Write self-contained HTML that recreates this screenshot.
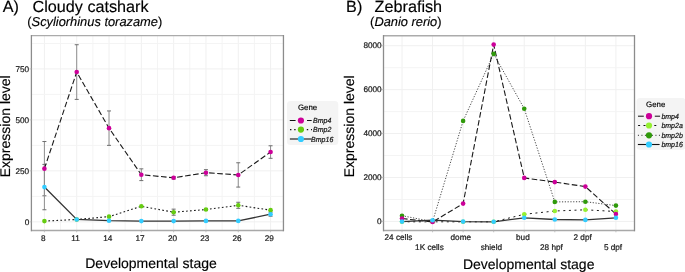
<!DOCTYPE html>
<html><head><meta charset="utf-8"><style>
html,body{margin:0;padding:0;background:#fff;}
svg{display:block;font-family:"Liberation Sans", sans-serif;}
.tk{fill:#1a1a1a;stroke:#1a1a1a;stroke-width:0.22px;}
.ti{fill:#000;stroke:#000;stroke-width:0.15px;}
.lg{fill:#111;stroke:#111;stroke-width:0.2px;}
</style></head><body>
<svg width="685" height="272" viewBox="0 0 685 272" text-rendering="geometricPrecision" style="will-change:transform">
<line x1="44.40" y1="35.6" x2="44.40" y2="230.5" stroke="#f0f0f0" stroke-width="1"/>
<line x1="60.55" y1="35.6" x2="60.55" y2="230.5" stroke="#f4f4f4" stroke-width="1"/>
<line x1="76.71" y1="35.6" x2="76.71" y2="230.5" stroke="#f0f0f0" stroke-width="1"/>
<line x1="92.86" y1="35.6" x2="92.86" y2="230.5" stroke="#f4f4f4" stroke-width="1"/>
<line x1="109.02" y1="35.6" x2="109.02" y2="230.5" stroke="#f0f0f0" stroke-width="1"/>
<line x1="125.17" y1="35.6" x2="125.17" y2="230.5" stroke="#f4f4f4" stroke-width="1"/>
<line x1="141.33" y1="35.6" x2="141.33" y2="230.5" stroke="#f0f0f0" stroke-width="1"/>
<line x1="157.48" y1="35.6" x2="157.48" y2="230.5" stroke="#f4f4f4" stroke-width="1"/>
<line x1="173.64" y1="35.6" x2="173.64" y2="230.5" stroke="#f0f0f0" stroke-width="1"/>
<line x1="189.79" y1="35.6" x2="189.79" y2="230.5" stroke="#f4f4f4" stroke-width="1"/>
<line x1="205.95" y1="35.6" x2="205.95" y2="230.5" stroke="#f0f0f0" stroke-width="1"/>
<line x1="222.10" y1="35.6" x2="222.10" y2="230.5" stroke="#f4f4f4" stroke-width="1"/>
<line x1="238.26" y1="35.6" x2="238.26" y2="230.5" stroke="#f0f0f0" stroke-width="1"/>
<line x1="254.41" y1="35.6" x2="254.41" y2="230.5" stroke="#f4f4f4" stroke-width="1"/>
<line x1="270.57" y1="35.6" x2="270.57" y2="230.5" stroke="#f0f0f0" stroke-width="1"/>
<line x1="31.5" y1="221.84" x2="283.5" y2="221.84" stroke="#f0f0f0" stroke-width="1"/>
<line x1="31.5" y1="196.35" x2="283.5" y2="196.35" stroke="#f4f4f4" stroke-width="1"/>
<line x1="31.5" y1="170.87" x2="283.5" y2="170.87" stroke="#f0f0f0" stroke-width="1"/>
<line x1="31.5" y1="145.38" x2="283.5" y2="145.38" stroke="#f4f4f4" stroke-width="1"/>
<line x1="31.5" y1="119.89" x2="283.5" y2="119.89" stroke="#f0f0f0" stroke-width="1"/>
<line x1="31.5" y1="94.40" x2="283.5" y2="94.40" stroke="#f4f4f4" stroke-width="1"/>
<line x1="31.5" y1="68.91" x2="283.5" y2="68.91" stroke="#f0f0f0" stroke-width="1"/>
<line x1="31.5" y1="43.43" x2="283.5" y2="43.43" stroke="#f4f4f4" stroke-width="1"/>
<line x1="402.00" y1="35.9" x2="402.00" y2="230.5" stroke="#f0f0f0" stroke-width="1"/>
<line x1="432.56" y1="35.9" x2="432.56" y2="230.5" stroke="#f0f0f0" stroke-width="1"/>
<line x1="463.12" y1="35.9" x2="463.12" y2="230.5" stroke="#f0f0f0" stroke-width="1"/>
<line x1="493.68" y1="35.9" x2="493.68" y2="230.5" stroke="#f0f0f0" stroke-width="1"/>
<line x1="524.24" y1="35.9" x2="524.24" y2="230.5" stroke="#f0f0f0" stroke-width="1"/>
<line x1="554.80" y1="35.9" x2="554.80" y2="230.5" stroke="#f0f0f0" stroke-width="1"/>
<line x1="585.36" y1="35.9" x2="585.36" y2="230.5" stroke="#f0f0f0" stroke-width="1"/>
<line x1="615.92" y1="35.9" x2="615.92" y2="230.5" stroke="#f0f0f0" stroke-width="1"/>
<line x1="383.5" y1="221.40" x2="634.5" y2="221.40" stroke="#f0f0f0" stroke-width="1"/>
<line x1="383.5" y1="199.44" x2="634.5" y2="199.44" stroke="#f4f4f4" stroke-width="1"/>
<line x1="383.5" y1="177.48" x2="634.5" y2="177.48" stroke="#f0f0f0" stroke-width="1"/>
<line x1="383.5" y1="155.52" x2="634.5" y2="155.52" stroke="#f4f4f4" stroke-width="1"/>
<line x1="383.5" y1="133.56" x2="634.5" y2="133.56" stroke="#f0f0f0" stroke-width="1"/>
<line x1="383.5" y1="111.60" x2="634.5" y2="111.60" stroke="#f4f4f4" stroke-width="1"/>
<line x1="383.5" y1="89.64" x2="634.5" y2="89.64" stroke="#f0f0f0" stroke-width="1"/>
<line x1="383.5" y1="67.68" x2="634.5" y2="67.68" stroke="#f4f4f4" stroke-width="1"/>
<line x1="383.5" y1="45.72" x2="634.5" y2="45.72" stroke="#f0f0f0" stroke-width="1"/>
<line x1="44.40" y1="141.52" x2="44.40" y2="195.79" stroke="#8e8e8e" stroke-width="1"/>
<line x1="42.40" y1="141.52" x2="46.40" y2="141.52" stroke="#6e6e6e" stroke-width="1"/>
<line x1="42.40" y1="195.79" x2="46.40" y2="195.79" stroke="#6e6e6e" stroke-width="1"/>
<line x1="76.71" y1="44.72" x2="76.71" y2="99.40" stroke="#8e8e8e" stroke-width="1"/>
<line x1="74.71" y1="44.72" x2="78.71" y2="44.72" stroke="#6e6e6e" stroke-width="1"/>
<line x1="74.71" y1="99.40" x2="78.71" y2="99.40" stroke="#6e6e6e" stroke-width="1"/>
<line x1="109.02" y1="110.94" x2="109.02" y2="145.37" stroke="#8e8e8e" stroke-width="1"/>
<line x1="107.02" y1="110.94" x2="111.02" y2="110.94" stroke="#6e6e6e" stroke-width="1"/>
<line x1="107.02" y1="145.37" x2="111.02" y2="145.37" stroke="#6e6e6e" stroke-width="1"/>
<line x1="141.33" y1="168.85" x2="141.33" y2="180.60" stroke="#8e8e8e" stroke-width="1"/>
<line x1="139.33" y1="168.85" x2="143.33" y2="168.85" stroke="#6e6e6e" stroke-width="1"/>
<line x1="139.33" y1="180.60" x2="143.33" y2="180.60" stroke="#6e6e6e" stroke-width="1"/>
<line x1="173.64" y1="176.55" x2="173.64" y2="178.98" stroke="#8e8e8e" stroke-width="1"/>
<line x1="171.64" y1="176.55" x2="175.64" y2="176.55" stroke="#6e6e6e" stroke-width="1"/>
<line x1="171.64" y1="178.98" x2="175.64" y2="178.98" stroke="#6e6e6e" stroke-width="1"/>
<line x1="205.95" y1="169.66" x2="205.95" y2="175.74" stroke="#8e8e8e" stroke-width="1"/>
<line x1="203.95" y1="169.66" x2="207.95" y2="169.66" stroke="#6e6e6e" stroke-width="1"/>
<line x1="203.95" y1="175.74" x2="207.95" y2="175.74" stroke="#6e6e6e" stroke-width="1"/>
<line x1="238.26" y1="162.78" x2="238.26" y2="187.08" stroke="#8e8e8e" stroke-width="1"/>
<line x1="236.26" y1="162.78" x2="240.26" y2="162.78" stroke="#6e6e6e" stroke-width="1"/>
<line x1="236.26" y1="187.08" x2="240.26" y2="187.08" stroke="#6e6e6e" stroke-width="1"/>
<line x1="270.57" y1="145.77" x2="270.57" y2="158.32" stroke="#8e8e8e" stroke-width="1"/>
<line x1="268.57" y1="145.77" x2="272.57" y2="145.77" stroke="#6e6e6e" stroke-width="1"/>
<line x1="268.57" y1="158.32" x2="272.57" y2="158.32" stroke="#6e6e6e" stroke-width="1"/>
<line x1="173.64" y1="209.15" x2="173.64" y2="215.23" stroke="#8e8e8e" stroke-width="1"/>
<line x1="171.64" y1="209.15" x2="175.64" y2="209.15" stroke="#6e6e6e" stroke-width="1"/>
<line x1="171.64" y1="215.23" x2="175.64" y2="215.23" stroke="#6e6e6e" stroke-width="1"/>
<line x1="205.95" y1="208.75" x2="205.95" y2="210.37" stroke="#8e8e8e" stroke-width="1"/>
<line x1="203.95" y1="208.75" x2="207.95" y2="208.75" stroke="#6e6e6e" stroke-width="1"/>
<line x1="203.95" y1="210.37" x2="207.95" y2="210.37" stroke="#6e6e6e" stroke-width="1"/>
<line x1="238.26" y1="202.27" x2="238.26" y2="208.34" stroke="#8e8e8e" stroke-width="1"/>
<line x1="236.26" y1="202.27" x2="240.26" y2="202.27" stroke="#6e6e6e" stroke-width="1"/>
<line x1="236.26" y1="208.34" x2="240.26" y2="208.34" stroke="#6e6e6e" stroke-width="1"/>
<line x1="44.40" y1="164.40" x2="44.40" y2="209.76" stroke="#8e8e8e" stroke-width="1"/>
<line x1="42.40" y1="164.40" x2="46.40" y2="164.40" stroke="#6e6e6e" stroke-width="1"/>
<line x1="42.40" y1="209.76" x2="46.40" y2="209.76" stroke="#6e6e6e" stroke-width="1"/>
<line x1="270.57" y1="212.19" x2="270.57" y2="216.24" stroke="#8e8e8e" stroke-width="1"/>
<line x1="268.57" y1="212.19" x2="272.57" y2="212.19" stroke="#6e6e6e" stroke-width="1"/>
<line x1="268.57" y1="216.24" x2="272.57" y2="216.24" stroke="#6e6e6e" stroke-width="1"/>
<polyline points="44.40,168.65 76.71,72.06 109.02,128.15 141.33,174.73 173.64,177.76 205.95,172.70 238.26,174.93 270.57,152.05" fill="none" stroke="#1a1a1a" stroke-width="1.1" stroke-dasharray="5.6 2.5"/>
<polyline points="44.40,221.10 76.71,219.48 109.02,216.64 141.33,206.32 173.64,212.19 205.95,209.56 238.26,205.31 270.57,210.16" fill="none" stroke="#1a1a1a" stroke-width="1.1" stroke-dasharray="1.7 2.3"/>
<polyline points="44.40,187.08 76.71,219.48 109.02,220.69 141.33,221.10 173.64,221.10 205.95,220.90 238.26,220.90 270.57,214.22" fill="none" stroke="#333" stroke-width="1.3"/>
<circle cx="44.40" cy="168.65" r="2.3" fill="#cc0099"/>
<circle cx="76.71" cy="72.06" r="2.3" fill="#cc0099"/>
<circle cx="109.02" cy="128.15" r="2.3" fill="#cc0099"/>
<circle cx="141.33" cy="174.73" r="2.3" fill="#cc0099"/>
<circle cx="173.64" cy="177.76" r="2.3" fill="#cc0099"/>
<circle cx="205.95" cy="172.70" r="2.3" fill="#cc0099"/>
<circle cx="238.26" cy="174.93" r="2.3" fill="#cc0099"/>
<circle cx="270.57" cy="152.05" r="2.3" fill="#cc0099"/>
<circle cx="44.40" cy="221.10" r="2.3" fill="#66cc11"/>
<circle cx="76.71" cy="219.48" r="2.3" fill="#66cc11"/>
<circle cx="109.02" cy="216.64" r="2.3" fill="#66cc11"/>
<circle cx="141.33" cy="206.32" r="2.3" fill="#66cc11"/>
<circle cx="173.64" cy="212.19" r="2.3" fill="#66cc11"/>
<circle cx="205.95" cy="209.56" r="2.3" fill="#66cc11"/>
<circle cx="238.26" cy="205.31" r="2.3" fill="#66cc11"/>
<circle cx="270.57" cy="210.16" r="2.3" fill="#66cc11"/>
<circle cx="44.40" cy="187.08" r="2.3" fill="#33ccff"/>
<circle cx="76.71" cy="219.48" r="2.3" fill="#33ccff"/>
<circle cx="109.02" cy="220.69" r="2.3" fill="#33ccff"/>
<circle cx="141.33" cy="221.10" r="2.3" fill="#33ccff"/>
<circle cx="173.64" cy="221.10" r="2.3" fill="#33ccff"/>
<circle cx="205.95" cy="220.90" r="2.3" fill="#33ccff"/>
<circle cx="238.26" cy="220.90" r="2.3" fill="#33ccff"/>
<circle cx="270.57" cy="214.22" r="2.3" fill="#33ccff"/>
<polyline points="402.00,215.70 432.56,221.60 463.12,120.90 493.68,53.90 524.24,108.70 554.80,201.90 585.36,201.70 615.92,205.60" fill="none" stroke="#1a1a1a" stroke-width="0.8" stroke-dasharray="1.2 1.6"/>
<polyline points="402.00,221.80 432.56,221.80 463.12,221.80 493.68,221.80 524.24,214.30 554.80,211.00 585.36,209.80 615.92,211.50" fill="none" stroke="#1a1a1a" stroke-width="1.0" stroke-dasharray="2 3.6"/>
<polyline points="402.00,218.50 432.56,222.00 463.12,203.60 493.68,44.60 524.24,177.90 554.80,182.10 585.36,186.60 615.92,214.10" fill="none" stroke="#1a1a1a" stroke-width="1.1" stroke-dasharray="5.6 2.5"/>
<polyline points="402.00,221.60 432.56,220.20 463.12,221.60 493.68,221.80 524.24,217.80 554.80,219.50 585.36,219.90 615.92,217.80" fill="none" stroke="#333" stroke-width="1.3"/>
<circle cx="402.00" cy="215.70" r="2.3" fill="#2f990a"/>
<circle cx="432.56" cy="221.60" r="2.3" fill="#2f990a"/>
<circle cx="463.12" cy="120.90" r="2.3" fill="#2f990a"/>
<circle cx="493.68" cy="53.90" r="2.3" fill="#2f990a"/>
<circle cx="524.24" cy="108.70" r="2.3" fill="#2f990a"/>
<circle cx="554.80" cy="201.90" r="2.3" fill="#2f990a"/>
<circle cx="585.36" cy="201.70" r="2.3" fill="#2f990a"/>
<circle cx="615.92" cy="205.60" r="2.3" fill="#2f990a"/>
<circle cx="402.00" cy="221.80" r="2.3" fill="#95f030"/>
<circle cx="432.56" cy="221.80" r="2.3" fill="#95f030"/>
<circle cx="463.12" cy="221.80" r="2.3" fill="#95f030"/>
<circle cx="493.68" cy="221.80" r="2.3" fill="#95f030"/>
<circle cx="524.24" cy="214.30" r="2.3" fill="#95f030"/>
<circle cx="554.80" cy="211.00" r="2.3" fill="#95f030"/>
<circle cx="585.36" cy="209.80" r="2.3" fill="#95f030"/>
<circle cx="615.92" cy="211.50" r="2.3" fill="#95f030"/>
<circle cx="402.00" cy="218.50" r="2.3" fill="#cc0099"/>
<circle cx="432.56" cy="222.00" r="2.3" fill="#cc0099"/>
<circle cx="463.12" cy="203.60" r="2.3" fill="#cc0099"/>
<circle cx="493.68" cy="44.60" r="2.3" fill="#cc0099"/>
<circle cx="524.24" cy="177.90" r="2.3" fill="#cc0099"/>
<circle cx="554.80" cy="182.10" r="2.3" fill="#cc0099"/>
<circle cx="585.36" cy="186.60" r="2.3" fill="#cc0099"/>
<circle cx="615.92" cy="214.10" r="2.3" fill="#cc0099"/>
<circle cx="402.00" cy="221.60" r="2.3" fill="#33ccff"/>
<circle cx="432.56" cy="220.20" r="2.3" fill="#33ccff"/>
<circle cx="463.12" cy="221.60" r="2.3" fill="#33ccff"/>
<circle cx="493.68" cy="221.80" r="2.3" fill="#33ccff"/>
<circle cx="524.24" cy="217.80" r="2.3" fill="#33ccff"/>
<circle cx="554.80" cy="219.50" r="2.3" fill="#33ccff"/>
<circle cx="585.36" cy="219.90" r="2.3" fill="#33ccff"/>
<circle cx="615.92" cy="217.80" r="2.3" fill="#33ccff"/>
<line x1="31.4" y1="35.7" x2="283.45" y2="35.7" stroke="#ababab" stroke-width="1.3"/>
<line x1="31.4" y1="230.6" x2="283.45" y2="230.6" stroke="#a8a8a8" stroke-width="1.5"/>
<line x1="31.4" y1="35.0" x2="31.4" y2="231.29999999999998" stroke="#8c8c8c" stroke-width="1.3"/>
<line x1="283.45" y1="35.0" x2="283.45" y2="231.29999999999998" stroke="#8c8c8c" stroke-width="1.3"/>
<line x1="383.5" y1="35.75" x2="634.5" y2="35.75" stroke="#ababab" stroke-width="1.3"/>
<line x1="383.5" y1="230.6" x2="634.5" y2="230.6" stroke="#a8a8a8" stroke-width="1.5"/>
<line x1="383.5" y1="35.05" x2="383.5" y2="231.29999999999998" stroke="#8c8c8c" stroke-width="1.3"/>
<line x1="634.5" y1="35.05" x2="634.5" y2="231.29999999999998" stroke="#8c8c8c" stroke-width="1.3"/>
<line x1="44.40" y1="230.5" x2="44.40" y2="232.3" stroke="#b5b5b5" stroke-width="0.8"/>
<line x1="76.71" y1="230.5" x2="76.71" y2="232.3" stroke="#b5b5b5" stroke-width="0.8"/>
<line x1="109.02" y1="230.5" x2="109.02" y2="232.3" stroke="#b5b5b5" stroke-width="0.8"/>
<line x1="141.33" y1="230.5" x2="141.33" y2="232.3" stroke="#b5b5b5" stroke-width="0.8"/>
<line x1="173.64" y1="230.5" x2="173.64" y2="232.3" stroke="#b5b5b5" stroke-width="0.8"/>
<line x1="205.95" y1="230.5" x2="205.95" y2="232.3" stroke="#b5b5b5" stroke-width="0.8"/>
<line x1="238.26" y1="230.5" x2="238.26" y2="232.3" stroke="#b5b5b5" stroke-width="0.8"/>
<line x1="270.57" y1="230.5" x2="270.57" y2="232.3" stroke="#b5b5b5" stroke-width="0.8"/>
<line x1="29.5" y1="221.84" x2="31.5" y2="221.84" stroke="#b5b5b5" stroke-width="0.8"/>
<line x1="29.5" y1="170.87" x2="31.5" y2="170.87" stroke="#b5b5b5" stroke-width="0.8"/>
<line x1="29.5" y1="119.89" x2="31.5" y2="119.89" stroke="#b5b5b5" stroke-width="0.8"/>
<line x1="29.5" y1="68.91" x2="31.5" y2="68.91" stroke="#b5b5b5" stroke-width="0.8"/>
<line x1="402.00" y1="230.5" x2="402.00" y2="232.3" stroke="#b5b5b5" stroke-width="0.8"/>
<line x1="432.56" y1="230.5" x2="432.56" y2="232.3" stroke="#b5b5b5" stroke-width="0.8"/>
<line x1="463.12" y1="230.5" x2="463.12" y2="232.3" stroke="#b5b5b5" stroke-width="0.8"/>
<line x1="493.68" y1="230.5" x2="493.68" y2="232.3" stroke="#b5b5b5" stroke-width="0.8"/>
<line x1="524.24" y1="230.5" x2="524.24" y2="232.3" stroke="#b5b5b5" stroke-width="0.8"/>
<line x1="554.80" y1="230.5" x2="554.80" y2="232.3" stroke="#b5b5b5" stroke-width="0.8"/>
<line x1="585.36" y1="230.5" x2="585.36" y2="232.3" stroke="#b5b5b5" stroke-width="0.8"/>
<line x1="615.92" y1="230.5" x2="615.92" y2="232.3" stroke="#b5b5b5" stroke-width="0.8"/>
<line x1="381.5" y1="221.40" x2="383.5" y2="221.40" stroke="#b5b5b5" stroke-width="0.8"/>
<line x1="381.5" y1="177.48" x2="383.5" y2="177.48" stroke="#b5b5b5" stroke-width="0.8"/>
<line x1="381.5" y1="133.56" x2="383.5" y2="133.56" stroke="#b5b5b5" stroke-width="0.8"/>
<line x1="381.5" y1="89.64" x2="383.5" y2="89.64" stroke="#b5b5b5" stroke-width="0.8"/>
<line x1="381.5" y1="45.72" x2="383.5" y2="45.72" stroke="#b5b5b5" stroke-width="0.8"/>
<text x="43.20" y="240.8" font-size="8.2" text-anchor="middle" class="tk">8</text>
<text x="75.51" y="240.8" font-size="8.2" text-anchor="middle" class="tk">11</text>
<text x="107.82" y="240.8" font-size="8.2" text-anchor="middle" class="tk">14</text>
<text x="140.13" y="240.8" font-size="8.2" text-anchor="middle" class="tk">17</text>
<text x="172.44" y="240.8" font-size="8.2" text-anchor="middle" class="tk">20</text>
<text x="204.75" y="240.8" font-size="8.2" text-anchor="middle" class="tk">23</text>
<text x="237.06" y="240.8" font-size="8.2" text-anchor="middle" class="tk">26</text>
<text x="269.37" y="240.8" font-size="8.2" text-anchor="middle" class="tk">29</text>
<text x="29.2" y="224.64" font-size="8.2" text-anchor="end" class="tk">0</text>
<text x="29.2" y="173.67" font-size="8.2" text-anchor="end" class="tk">250</text>
<text x="29.2" y="122.69" font-size="8.2" text-anchor="end" class="tk">500</text>
<text x="29.2" y="71.71" font-size="8.2" text-anchor="end" class="tk">750</text>
<text x="381.6" y="224.10" font-size="8.2" text-anchor="end" class="tk">0</text>
<text x="381.6" y="180.18" font-size="8.2" text-anchor="end" class="tk">2000</text>
<text x="381.6" y="136.26" font-size="8.2" text-anchor="end" class="tk">4000</text>
<text x="381.6" y="92.34" font-size="8.2" text-anchor="end" class="tk">6000</text>
<text x="381.6" y="48.42" font-size="8.2" text-anchor="end" class="tk">8000</text>
<text x="398.45" y="239.8" font-size="8.2" text-anchor="middle" class="tk">24 cells</text>
<text x="429.45" y="250.3" font-size="8.2" text-anchor="middle" class="tk">1K cells</text>
<text x="460.80" y="239.8" font-size="8.2" text-anchor="middle" class="tk">dome</text>
<text x="491.35" y="250.3" font-size="8.2" text-anchor="middle" class="tk">shield</text>
<text x="522.90" y="239.8" font-size="8.2" text-anchor="middle" class="tk">bud</text>
<text x="551.40" y="250.3" font-size="8.2" text-anchor="middle" class="tk">28 hpf</text>
<text x="582.65" y="239.8" font-size="8.2" text-anchor="middle" class="tk">2 dpf</text>
<text x="613.05" y="250.3" font-size="8.2" text-anchor="middle" class="tk">5 dpf</text>
<text x="151" y="267.7" font-size="14.0" text-anchor="middle" class="ti">Developmental stage</text>
<text x="528.7" y="268.7" font-size="14.0" text-anchor="middle" class="ti">Developmental stage</text>
<text transform="translate(10.3,126.3) rotate(-90)" x="0" y="0" font-size="14.0" text-anchor="middle" class="ti">Expression level</text>
<text transform="translate(353.8,126.3) rotate(-90)" x="0" y="0" font-size="14.0" text-anchor="middle" class="ti">Expression level</text>
<text x="2.8" y="11.7" font-size="16.2" class="ti">A)</text>
<text x="32.5" y="11.7" font-size="16.2" class="ti">Cloudy catshark</text>
<text x="27.3" y="25.8" font-size="12.85" class="ti">(<tspan font-style="italic">Scyliorhinus torazame</tspan>)</text>
<text x="346.1" y="11.7" font-size="16.2" class="ti">B)</text>
<text x="374.6" y="11.7" font-size="16.2" class="ti">Zebrafish</text>
<text x="370.1" y="25.8" font-size="12.85" class="ti">(<tspan font-style="italic">Danio rerio</tspan>)</text>
<rect x="287" y="100.9" width="51.30000000000001" height="44.099999999999994" rx="3.5" fill="#f4f4f4"/>
<text x="297.9" y="109.7" font-size="7.9" class="ti">Gene</text>
<line x1="289.8" y1="120.5" x2="295.6" y2="120.5" stroke="#111" stroke-width="1.0"/>
<line x1="307" y1="120.5" x2="311.7" y2="120.5" stroke="#111" stroke-width="1.0"/>
<circle cx="300.9" cy="120.5" r="3.1" fill="#cc0099"/>
<text transform="translate(322.2,123.15) scale(1,1.06)" font-size="7.0" font-style="italic" class="lg" text-anchor="middle">Bmp4</text>
<line x1="290.0" y1="129.6" x2="312.0" y2="129.6" stroke="#111" stroke-width="1.1" stroke-dasharray="1.4 2.8"/>
<circle cx="300.9" cy="129.6" r="3.1" fill="#66cc11"/>
<text transform="translate(322.2,132.25) scale(1,1.06)" font-size="7.0" font-style="italic" class="lg" text-anchor="middle">Bmp2</text>
<line x1="289.9" y1="139.0" x2="311.5" y2="139.0" stroke="#111" stroke-width="1.1"/>
<circle cx="300.9" cy="139.0" r="3.1" fill="#33ccff"/>
<text transform="translate(322.2,141.65) scale(1,1.06)" font-size="7.0" font-style="italic" class="lg" text-anchor="middle">Bmp16</text>
<rect x="636.5" y="97.9" width="49.0" height="51.900000000000006" rx="3.5" fill="#f4f4f4"/>
<text x="646.1" y="107.2" font-size="7.9" class="ti">Gene</text>
<line x1="638.0" y1="116.2" x2="643.8" y2="116.2" stroke="#111" stroke-width="1.0"/>
<line x1="654.8" y1="116.2" x2="660.1" y2="116.2" stroke="#111" stroke-width="1.0"/>
<circle cx="649.0" cy="116.2" r="3.1" fill="#cc0099"/>
<text transform="translate(661.4,118.85000000000001) scale(1,1.06)" font-size="7.0" font-style="italic" class="lg" text-anchor="start">bmp4</text>
<line x1="638.1" y1="125.5" x2="657.5" y2="125.5" stroke="#111" stroke-width="1.1" stroke-dasharray="2 3.4"/>
<circle cx="649.0" cy="125.5" r="3.1" fill="#95f030"/>
<text transform="translate(661.4,128.15) scale(1,1.06)" font-size="7.0" font-style="italic" class="lg" text-anchor="start">bmp2a</text>
<line x1="637.95" y1="135.3" x2="660.5" y2="135.3" stroke="#111" stroke-width="0.9" stroke-dasharray="1 2.5"/>
<circle cx="649.0" cy="135.3" r="3.1" fill="#2f990a"/>
<text transform="translate(661.4,137.95000000000002) scale(1,1.06)" font-size="7.0" font-style="italic" class="lg" text-anchor="start">bmp2b</text>
<line x1="637.9" y1="144.5" x2="659.6" y2="144.5" stroke="#111" stroke-width="1.1"/>
<circle cx="649.0" cy="144.5" r="3.1" fill="#33ccff"/>
<text transform="translate(661.4,147.15) scale(1,1.06)" font-size="7.0" font-style="italic" class="lg" text-anchor="start">bmp16</text>
</svg>
</body></html>
